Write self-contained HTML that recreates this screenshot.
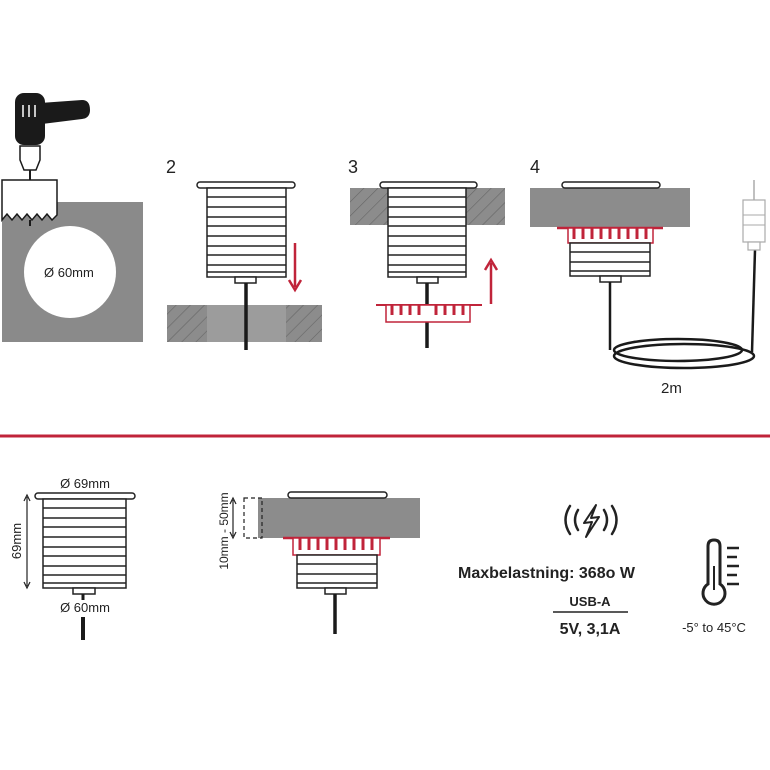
<!DOCTYPE html><html><head><meta charset="utf-8"><style>body{margin:0;background:#fff}svg{display:block}text{font-family:"Liberation Sans",sans-serif}</style></head><body>
<svg width="770" height="770" viewBox="0 0 770 770" xmlns="http://www.w3.org/2000/svg">
<defs>
<pattern id="h" width="10" height="10" patternUnits="userSpaceOnUse" patternTransform="rotate(45)"><rect width="10" height="10" fill="#8c8c8c"/><line x1="0" y1="0" x2="0" y2="10" stroke="#666" stroke-width="1.2"/></pattern>
</defs>
<!-- drill -->
<rect x="2" y="202" width="141" height="140" fill="#8a8a8a"/>
<circle cx="70" cy="272" r="46" fill="#fff"/>
<text x="44" y="277" font-size="13" fill="#222">Ø 60mm</text>
<path d="M40 103 L82 100 Q90 100 90 110 Q90 118 82 119 L42 124Z" fill="#1a1a1a"/>
<rect x="15" y="93" width="30" height="52" rx="9" fill="#1a1a1a"/>
<g stroke="#fff" stroke-width="1.5"><line x1="23" y1="105" x2="23" y2="117"/><line x1="29" y1="105" x2="29" y2="117"/><line x1="35" y1="105" x2="35" y2="117"/></g>
<path d="M20 146 H40 V160 L36 170 H24 L20 160Z" fill="#fff" stroke="#1a1a1a" stroke-width="1.5"/>
<line x1="30" y1="170" x2="30" y2="180" stroke="#1a1a1a" stroke-width="2"/>
<path d="M2 180 H57 V215 L52 220 L47 214 L42 220 L37 214 L32 220 L27 214 L22 220 L17 214 L12 220 L7 214 L2 220Z" fill="#fff" stroke="#1a1a1a" stroke-width="1.5"/>
<line x1="30" y1="220" x2="30" y2="226" stroke="#1a1a1a" stroke-width="2"/>

<!-- step 2 -->
<text x="166" y="173" font-size="18" fill="#222">2</text>
<rect x="167" y="305" width="155" height="37" fill="url(#h)"/>
<rect x="207" y="305" width="79" height="37" fill="#9c9c9c"/>
<rect x="197" y="182" width="98" height="6" rx="3" fill="#fff" stroke="#222" stroke-width="1.5"/>
<rect x="207" y="188" width="79" height="89" fill="#fff" stroke="#222" stroke-width="1.5"/>
<g stroke="#222" stroke-width="1.5"><line x1="207" y1="197" x2="286" y2="197"/><line x1="207" y1="207" x2="286" y2="207"/><line x1="207" y1="217" x2="286" y2="217"/><line x1="207" y1="226" x2="286" y2="226"/><line x1="207" y1="236" x2="286" y2="236"/><line x1="207" y1="246" x2="286" y2="246"/><line x1="207" y1="255" x2="286" y2="255"/><line x1="207" y1="265" x2="286" y2="265"/><line x1="207" y1="272" x2="286" y2="272"/></g>
<rect x="235" y="277" width="21" height="6" fill="#fff" stroke="#222" stroke-width="1.5"/>
<line x1="246" y1="283" x2="246" y2="350" stroke="#1a1a1a" stroke-width="3.5"/>
<line x1="295" y1="243" x2="295" y2="287" stroke="#c0243a" stroke-width="2.5"/>
<path d="M289 280 L295 290 L301 280" fill="none" stroke="#c0243a" stroke-width="2.5"/>

<!-- step 3 -->
<text x="348" y="173" font-size="18" fill="#222">3</text>
<rect x="350" y="188" width="155" height="37" fill="url(#h)"/>
<rect x="380" y="182" width="97" height="6" rx="3" fill="#fff" stroke="#222" stroke-width="1.5"/>
<rect x="388" y="188" width="78" height="89" fill="#fff" stroke="#222" stroke-width="1.5"/>
<g stroke="#222" stroke-width="1.5"><line x1="388" y1="197" x2="466" y2="197"/><line x1="388" y1="207" x2="466" y2="207"/><line x1="388" y1="217" x2="466" y2="217"/><line x1="388" y1="226" x2="466" y2="226"/><line x1="388" y1="236" x2="466" y2="236"/><line x1="388" y1="246" x2="466" y2="246"/><line x1="388" y1="255" x2="466" y2="255"/><line x1="388" y1="265" x2="466" y2="265"/><line x1="388" y1="272" x2="466" y2="272"/></g>
<rect x="417" y="277" width="21" height="6" fill="#fff" stroke="#222" stroke-width="1.5"/>
<line x1="427" y1="283" x2="427" y2="348" stroke="#1a1a1a" stroke-width="3.5"/>
<line x1="376" y1="305" x2="482" y2="305" stroke="#c0243a" stroke-width="2"/>
<rect x="386" y="305" width="84" height="17" fill="#fff" stroke="#c0243a" stroke-width="1.5"/>
<g stroke="#c0243a" stroke-width="3"><line x1="392" y1="305" x2="392" y2="315"/><line x1="401" y1="305" x2="401" y2="315"/><line x1="410" y1="305" x2="410" y2="315"/><line x1="419" y1="305" x2="419" y2="315"/><line x1="436" y1="305" x2="436" y2="315"/><line x1="445" y1="305" x2="445" y2="315"/><line x1="454" y1="305" x2="454" y2="315"/><line x1="463" y1="305" x2="463" y2="315"/></g>
<line x1="491" y1="304" x2="491" y2="263" stroke="#c0243a" stroke-width="2.5"/>
<path d="M485 270 L491 260 L497 270" fill="none" stroke="#c0243a" stroke-width="2.5"/>

<!-- step 4 -->
<text x="530" y="173" font-size="18" fill="#222">4</text>
<rect x="530" y="188" width="160" height="39" fill="#8c8c8c"/>
<rect x="562" y="182" width="98" height="6" rx="3" fill="#fff" stroke="#222" stroke-width="1.5"/>
<line x1="557" y1="228" x2="663" y2="228" stroke="#c0243a" stroke-width="2.5"/>
<rect x="568" y="228" width="85" height="15" fill="#fff" stroke="#c0243a" stroke-width="1.5"/>
<g stroke="#c0243a" stroke-width="3"><line x1="574" y1="228" x2="574" y2="239"/><line x1="583" y1="228" x2="583" y2="239"/><line x1="592" y1="228" x2="592" y2="239"/><line x1="601" y1="228" x2="601" y2="239"/><line x1="610" y1="228" x2="610" y2="239"/><line x1="619" y1="228" x2="619" y2="239"/><line x1="628" y1="228" x2="628" y2="239"/><line x1="637" y1="228" x2="637" y2="239"/><line x1="646" y1="228" x2="646" y2="239"/></g>
<rect x="570" y="243" width="80" height="33" fill="#fff" stroke="#222" stroke-width="1.5"/>
<g stroke="#222" stroke-width="1.5"><line x1="570" y1="252" x2="650" y2="252"/><line x1="570" y1="262" x2="650" y2="262"/><line x1="570" y1="271" x2="650" y2="271"/></g>
<rect x="600" y="276" width="21" height="6" fill="#fff" stroke="#222" stroke-width="1.5"/>
<g fill="none" stroke="#1a1a1a" stroke-width="2.5">
<path d="M610 282 V350"/>
<ellipse cx="678" cy="350" rx="64" ry="11"/>
<ellipse cx="684" cy="356" rx="70" ry="12"/>
<path d="M752 352 L755 250"/>
</g>
<rect x="743" y="200" width="22" height="42" fill="#fff" stroke="#aaa" stroke-width="1.2"/>
<rect x="748" y="242" width="12" height="8" fill="#fff" stroke="#aaa" stroke-width="1.2"/>
<line x1="754" y1="180" x2="754" y2="200" stroke="#aaa" stroke-width="1.5"/>
<line x1="743" y1="215" x2="765" y2="215" stroke="#aaa"/><line x1="743" y1="225" x2="765" y2="225" stroke="#aaa"/>
<text x="661" y="393" font-size="15" fill="#222">2m</text>

<line x1="0" y1="436" x2="770" y2="436" stroke="#c0243a" stroke-width="3"/>

<!-- bottom left -->
<text x="85" y="488" font-size="13" fill="#222" text-anchor="middle">Ø 69mm</text>
<rect x="35" y="493" width="100" height="6" rx="3" fill="#fff" stroke="#222" stroke-width="1.5"/>
<rect x="43" y="499" width="83" height="89" fill="#fff" stroke="#222" stroke-width="1.5"/>
<g stroke="#222" stroke-width="1.5"><line x1="43" y1="508" x2="126" y2="508"/><line x1="43" y1="518" x2="126" y2="518"/><line x1="43" y1="527" x2="126" y2="527"/><line x1="43" y1="537" x2="126" y2="537"/><line x1="43" y1="547" x2="126" y2="547"/><line x1="43" y1="556" x2="126" y2="556"/><line x1="43" y1="566" x2="126" y2="566"/><line x1="43" y1="575" x2="126" y2="575"/><line x1="43" y1="583" x2="126" y2="583"/></g>
<rect x="73" y="588" width="22" height="6" fill="#fff" stroke="#222" stroke-width="1.5"/>
<line x1="83" y1="594" x2="83" y2="600" stroke="#1a1a1a" stroke-width="3"/>
<line x1="83" y1="617" x2="83" y2="640" stroke="#1a1a1a" stroke-width="4"/>
<text x="85" y="612" font-size="13" fill="#222" text-anchor="middle">Ø 60mm</text>
<line x1="27" y1="497" x2="27" y2="586" stroke="#222" stroke-width="1.2"/>
<path d="M24 501 L27 495 L30 501 M24 582 L27 588 L30 582" fill="none" stroke="#222" stroke-width="1.2"/>
<text transform="translate(21 541) rotate(-90)" font-size="13" fill="#222" text-anchor="middle">69mm</text>

<!-- bottom middle -->
<rect x="258" y="498" width="162" height="40" fill="#8c8c8c"/>
<rect x="288" y="492" width="99" height="6" rx="3" fill="#fff" stroke="#222" stroke-width="1.5"/>
<rect x="244" y="498" width="18" height="40" fill="none" stroke="#222" stroke-width="1.2" stroke-dasharray="4 3"/>
<line x1="233" y1="500" x2="233" y2="536" stroke="#222" stroke-width="1.2"/>
<path d="M230 504 L233 498 L236 504 M230 532 L233 538 L236 532" fill="none" stroke="#222" stroke-width="1.2"/>
<text transform="translate(228 531) rotate(-90)" font-size="12" fill="#222" text-anchor="middle">10mm - 50mm</text>
<line x1="283" y1="538" x2="390" y2="538" stroke="#c0243a" stroke-width="2.5"/>
<rect x="293" y="538" width="87" height="17" fill="#fff" stroke="#c0243a" stroke-width="1.5"/>
<g stroke="#c0243a" stroke-width="3"><line x1="300" y1="538" x2="300" y2="550"/><line x1="309" y1="538" x2="309" y2="550"/><line x1="318" y1="538" x2="318" y2="550"/><line x1="327" y1="538" x2="327" y2="550"/><line x1="336" y1="538" x2="336" y2="550"/><line x1="345" y1="538" x2="345" y2="550"/><line x1="354" y1="538" x2="354" y2="550"/><line x1="363" y1="538" x2="363" y2="550"/><line x1="372" y1="538" x2="372" y2="550"/></g>
<rect x="297" y="555" width="80" height="33" fill="#fff" stroke="#222" stroke-width="1.5"/>
<g stroke="#222" stroke-width="1.5"><line x1="297" y1="564" x2="377" y2="564"/><line x1="297" y1="574" x2="377" y2="574"/><line x1="297" y1="583" x2="377" y2="583"/></g>
<rect x="325" y="588" width="21" height="6" fill="#fff" stroke="#222" stroke-width="1.5"/>
<line x1="335" y1="594" x2="335" y2="634" stroke="#1a1a1a" stroke-width="3.5"/>

<!-- right info -->
<g fill="none" stroke="#222" stroke-width="2.5" stroke-linecap="round">
<path d="M570 506 Q561 520 570 534"/><path d="M578 510 Q572 520 578 530"/>
<path d="M612 506 Q621 520 612 534"/><path d="M604 510 Q610 520 604 530"/>
</g>
<path d="M596 505 L584 523 L592 522 L586 537 L599 517 L591 518 Z" fill="none" stroke="#222" stroke-width="2" stroke-linejoin="round"/>
<text x="458" y="578" font-size="16" font-weight="bold" fill="#222">Maxbelastning: 368o W</text>
<text x="590" y="606" font-size="13" font-weight="bold" fill="#222" text-anchor="middle">USB-A</text>
<line x1="553" y1="612" x2="628" y2="612" stroke="#222" stroke-width="1.5"/>
<text x="590" y="634" font-size="16" font-weight="bold" fill="#222" text-anchor="middle">5V, 3,1A</text>
<path d="M708 584 V546 Q708 540 714 540 Q720 540 720 546 V584 A11 11 0 1 1 708 584 Z" fill="none" stroke="#222" stroke-width="3"/>
<line x1="714" y1="566" x2="714" y2="590" stroke="#222" stroke-width="2"/>
<g stroke="#222" stroke-width="2.5"><line x1="727" y1="548" x2="739" y2="548"/><line x1="727" y1="557" x2="737" y2="557"/><line x1="727" y1="566" x2="739" y2="566"/><line x1="727" y1="575" x2="737" y2="575"/><line x1="727" y1="584" x2="739" y2="584"/></g>
<text x="714" y="632" font-size="13" fill="#222" text-anchor="middle">-5° to 45°C</text>
</svg>
</body></html>
